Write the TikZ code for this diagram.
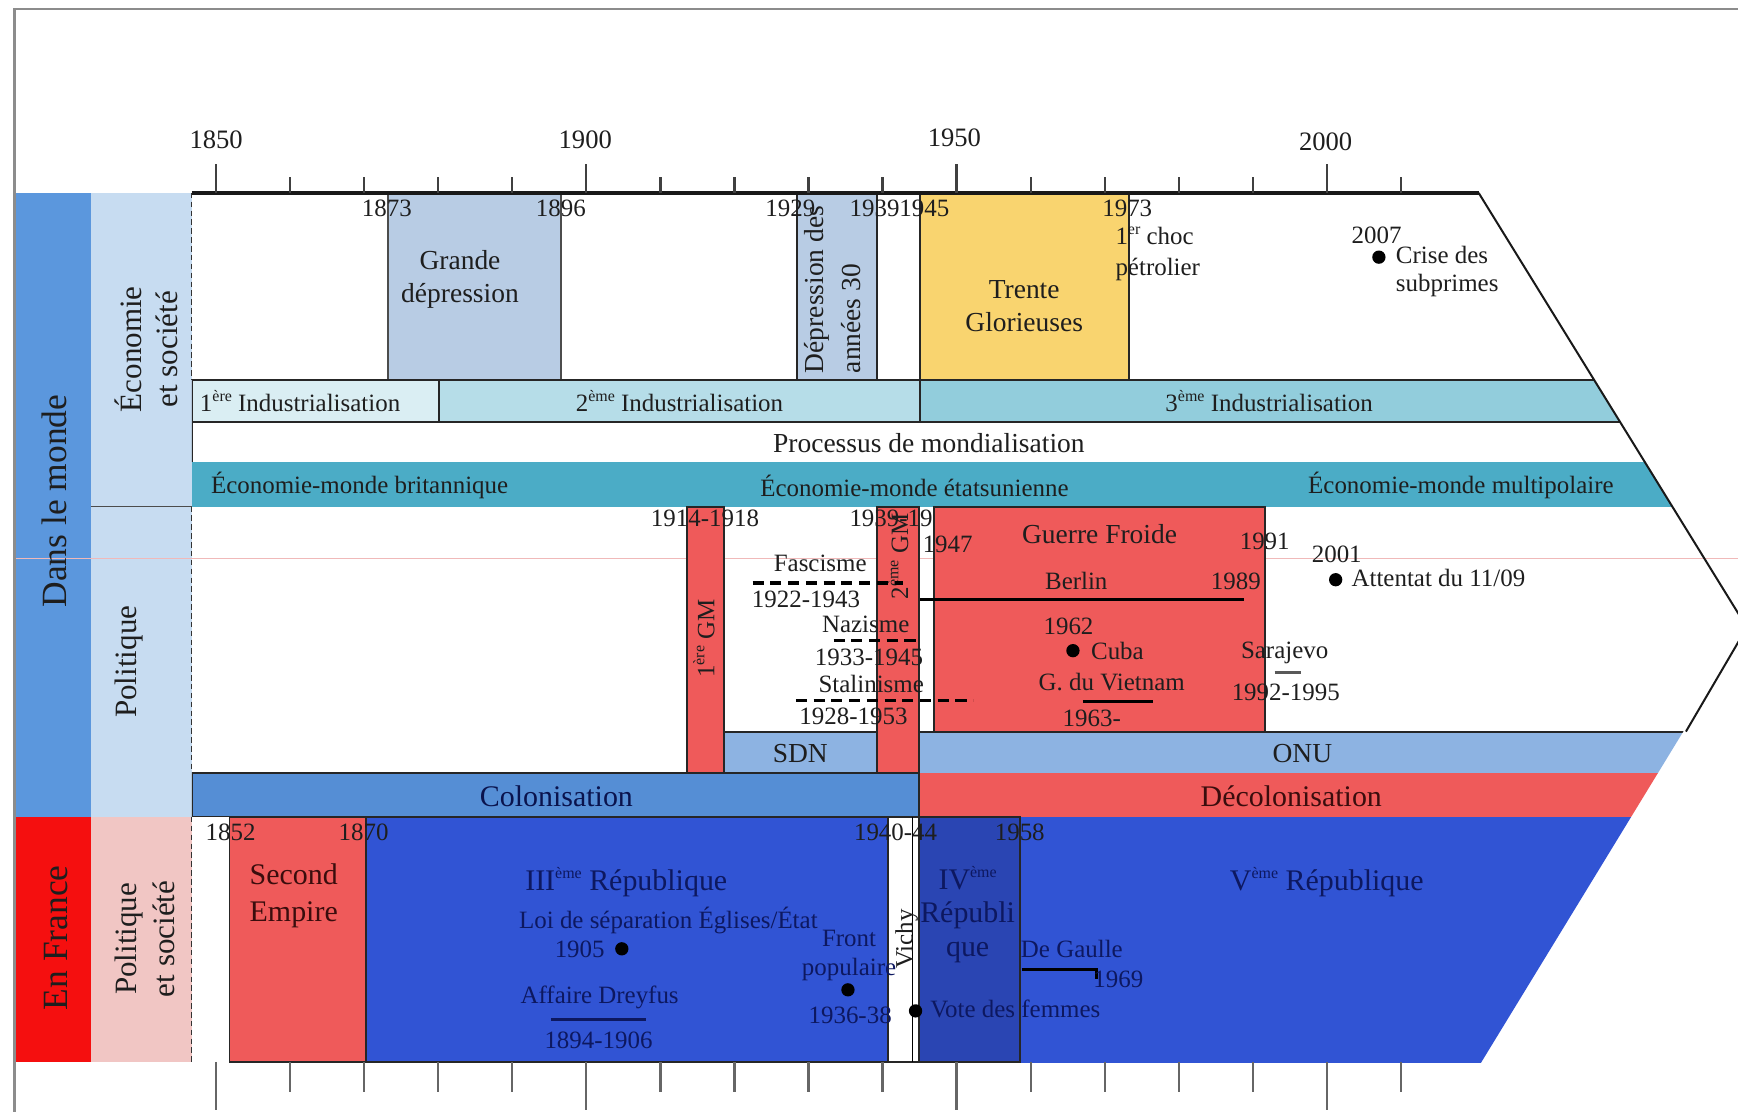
\documentclass[tikz,border=0pt]{standalone}
\usepackage{fontspec}
\setmainfont{Liberation Serif}
\newcommand\fsA{\fontsize{11.25pt}{13.5pt}\selectfont}
\newcommand\fsY{\fontsize{12pt}{14pt}\selectfont}
\newcommand\fsB{\fontsize{12.4pt}{15pt}\selectfont}
\newcommand\fsC{\fontsize{13.5pt}{16.5pt}\selectfont}
\newcommand\fsD{\fontsize{14pt}{16pt}\selectfont}
\newcommand\fsE{\fontsize{16pt}{18pt}\selectfont}
\newcommand\expo[1]{\raisebox{0.4em}{\fontsize{7.2pt}{8pt}\selectfont #1}}
\definecolor{colmonde}{HTML}{5B97DD}
\definecolor{colfrance}{HTML}{F50F0F}
\definecolor{coltwomonde}{HTML}{C7DCF1}
\definecolor{coltwofrance}{HTML}{F1C6C4}
\definecolor{depr}{HTML}{B8CCE4}
\definecolor{trente}{HTML}{F9D46F}
\definecolor{indA}{HTML}{DAEEF3}
\definecolor{indB}{HTML}{B6DDE8}
\definecolor{indC}{HTML}{92CDDC}
\definecolor{ecomonde}{HTML}{4BACC6}
\definecolor{sdnblue}{HTML}{8DB3E2}
\definecolor{colon}{HTML}{558ED5}
\definecolor{rouge}{HTML}{EF5A5A}
\definecolor{rep}{HTML}{3154D4}
\definecolor{repIV}{HTML}{2A45B3}
\definecolor{pinkline}{HTML}{F0B9B9}
\definecolor{framegray}{HTML}{8C8C8C}
\definecolor{txt}{HTML}{1E1E1E}
\definecolor{navy}{HTML}{0D1860}
\definecolor{maroon}{HTML}{3A0D0D}
\begin{document}
\begin{tikzpicture}[x=0.5pt,y=-0.5pt,
  tx/.style={inner sep=0pt, text=txt, font=\fsA},
  txb/.style={tx, font=\fsB},
  txc/.style={tx, font=\fsC},
  nv/.style={text=navy},
  bx/.style={draw=black!85, line width=0.9pt},
  evline/.style={line width=1.5pt, black},
  dashline/.style={line width=1.6pt, black, dash pattern=on 5pt off 3pt},
  evdot/.style={fill=black},
  tick/.style={line width=1pt, black!75}]
\useasboundingbox (0,0) rectangle (1568,1003);
\fill[white] (0,0) rectangle (1568,1003);
% left columns
\fill[colmonde] (13,174) rectangle (82,737);
\fill[colfrance] (13,737) rectangle (82,958);
\fill[coltwomonde] (82,174) rectangle (173,737);
\fill[coltwofrance] (82,737) rectangle (173,958);
\draw[line width=0.6pt, black!70] (82,457) -- (173,457);
% guide line
\draw[pinkline, line width=0.5pt] (13,504) -- (1568,504);
% frame
\draw[framegray, line width=1pt] (13,1003) -- (13,8) -- (1568,8);
% column labels
\node[rotate=90, tx, font=\fsE] (dlm) at (49,452) {Dans le monde};
\node[rotate=90, tx, font=\fsE] (enf) at (51,846) {En France};
\node[rotate=90, tx, font=\fsD, align=center] (ecs) at (132,315) {Économie\\et société};
\node[rotate=90, tx, font=\fsD] (pol) at (116,597) {Politique};
\node[rotate=90, tx, align=center, font=\fontsize{14pt}{17pt}\selectfont] (pes) at (131,847) {Politique\\et société};
% dashed start line
\draw[black!80, line width=0.5pt, dash pattern=on 2.5pt off 1.5pt] (173,174) -- (173,343) (173,457) -- (173,697) (173,737) -- (173,958);
% ---- bands clipped by the chevron
\begin{scope}
\clip (173,174) -- (1334,174) -- (1576,566) -- (1336,959) -- (173,959) -- cycle;
% economy boxes
\draw[fill=depr, draw=black!70, line width=0.8pt] (350,174) rectangle (506,343);
\draw[fill=depr, bx] (719,174) rectangle (791,343);
\draw[fill=trente, bx] (830,174) rectangle (1019,343);
% industrialisation
\fill[indA] (173,343) rectangle (396,381);
\fill[indB] (396,343) rectangle (830,381);
\fill[indC] (830,343) rectangle (1600,381);
\draw[line width=1pt, black!85] (173,343) -- (1600,343) (173,381) -- (1600,381)
  (173,343) -- (173,417) (396,343) -- (396,381) (830,343) -- (830,381);
% economie-monde
\fill[ecomonde] (173,417) rectangle (1600,457);
% SDN / ONU
\draw[fill=sdnblue, bx] (653,660) rectangle (791,697);
\fill[sdnblue] (829,660) rectangle (1600,697);
\draw[line width=0.9pt, black!85] (829,660) -- (1600,660);
% colonisation
\fill[rouge] (829,697) rectangle (1600,737);
\draw[fill=colon, bx] (173,697) rectangle (829,737);
% wars
\draw[fill=rouge, bx] (620,457) rectangle (653,697);
\draw[fill=rouge, bx] (791,457) rectangle (829,697);
\node[tx, anchor=west] (y3945) at (766,468) {1939-1945};
\draw[fill=rouge, bx] (843,457) rectangle (1141,660);
% France
\fill[white] (173,737) rectangle (207,958);
\fill[rep] (920,737) rectangle (1600,959);
\draw[fill=rouge, bx, line width=0.7pt] (207,737) rectangle (330,958);
\draw[fill=rep, bx] (330,737) rectangle (801,958);
\draw[fill=white, bx] (801,737) rectangle (829,958);
\draw[line width=0.5pt] (823,737) -- (823,958);
\draw[fill=repIV, bx] (829,737) rectangle (920,958);
\end{scope}
% chevron outline and axis
\draw[line width=0.9pt, black!90] (1334,174) -- (1576,566) -- (1521,660);
\draw[line width=1.6pt, black!90] (173,174) -- (1334,174);
\foreach \yr in {1860,1870,1880,1890,1910,1920,1930,1940,1960,1970,1980,1990,2010} {
  \pgfmathsetmacro\xx{195+(\yr-1850)*6.68}
  \draw[tick] (\xx,160) -- (\xx,174);
  \draw[tick, black!60] (\xx,958) -- (\xx,985);
}
\foreach \yr in {1850,1900,1950,2000} {
  \pgfmathsetmacro\xx{195+(\yr-1850)*6.68}
  \draw[tick] (\xx,148) -- (\xx,174);
  \draw[tick, black!60] (\xx,958) -- (\xx,1001);
}
\node[tx, font=\fsY] (l1850) at (195,126) {1850};
\node[tx, font=\fsY] (l1900) at (528,126) {1900};
\node[tx, font=\fsY] (l1950) at (861,124) {1950};
\node[tx, font=\fsY] (l2000) at (1196,128) {2000};
% ---- economy texts
\node[tx] (t1873) at (349,188) {1873};
\node[tx] (t1896) at (506,188) {1896};
\node[tx] (t1929) at (713,188) {1929};
\node[tx] (t1939) at (789,188) {1939};
\node[tx] (t1945) at (834,188) {1945};
\node[tx] (t1973) at (1017,188) {1973};
\node[txb, align=center] (grande) at (415,252) {Grande\\dépression};
\node[txb, rotate=90, anchor=west, align=left, font=\fontsize{12.4pt}{17pt}\selectfont] (depr30) at (751,337) {Dépression des\\années 30};
\node[txb, align=center] (trente) at (924,276) {Trente\\Glorieuses};
\node[tx, anchor=west, align=left, font=\fontsize{11.25pt}{14pt}\selectfont] (choc) at (1006,229) {1\expo{er} choc\\pétrolier};
\node[tx] (t2007) at (1242,212) {2007};
\fill[evdot] (1244,232) circle (3pt);
\node[tx, anchor=west, align=left, font=\fontsize{11.25pt}{13pt}\selectfont] (crise) at (1259,245) {Crise des\\subprimes};
\node[tx, anchor=west] (ind1) at (180,362) {1\expo{ère} Industrialisation};
\node[tx] (ind2) at (613,362) {2\expo{ème} Industrialisation};
\node[tx] (ind3) at (1145,362) {3\expo{ème} Industrialisation};
\node[txb] (proc) at (838,400) {Processus de mondialisation};
\node[tx, anchor=west] (emb) at (190,438) {Économie-monde britannique};
\node[tx] (eme) at (825,438) {Économie-monde étatsunienne};
\node[tx] (emm) at (1318,438) {Économie-monde multipolaire};
% ---- politique texts
\node[tx] (gm1y) at (636,468) {1914-1918};
\node[tx, rotate=90] (gm1) at (635,576) {1\expo{ère} GM};
\node[tx, rotate=90] (gm2) at (810,502) {2\expo{ème} GM};
\node[tx] (y1947) at (855,491) {1947};
\node[txb] (gf) at (992,482) {Guerre Froide};
\node[tx] (y1991) at (1141,488) {1991};
\node[tx] (y2001) at (1206,500) {2001};
\fill[evdot] (1205,523) circle (3pt);
\node[tx, anchor=west] (att) at (1219,521) {Attentat du 11/09};
\node[tx] (fasc) at (740,508) {Fascisme};
\coordinate (fa) at (679,526); \coordinate (fb) at (815,526);
\draw[dashline] (fa) -- (fb);
\node[tx, anchor=west] (yfasc) at (678,541) {1922-1943};
\node[tx] (berlin) at (971,524) {Berlin};
\node[tx] (y1989) at (1115,524) {1989};
\coordinate (ba) at (830,541); \coordinate (bb) at (1122,541);
\draw[evline] (ba) -- (bb);
\node[tx] (y1962) at (964,565) {1962};
\fill[evdot] (968,587) circle (3pt);
\node[tx, anchor=west] (cuba) at (984,587) {Cuba};
\node[tx] (naz) at (781,563) {Nazisme};
\coordinate (na) at (752,578); \coordinate (nb) at (830,578);
\draw[dashline] (na) -- (nb);
\node[tx] (ynaz) at (784,593) {1933-1945};
\node[tx] (sar) at (1159,589) {Sarajevo};
\coordinate (sa) at (1150,607); \coordinate (sb) at (1174,607);
\draw[line width=1.5pt, black!65] (sa) -- (sb);
\node[tx] (ysar) at (1160,625) {1992-1995};
\node[tx] (stal) at (786,617) {Stalinisme};
\coordinate (sta) at (718,632); \coordinate (stb) at (878,632);
\draw[dashline] (sta) -- (stb);
\node[tx] (ystal) at (770,646) {1928-1953};
\node[tx] (viet) at (1003,615) {G. du Vietnam};
\coordinate (va) at (977,633); \coordinate (vb) at (1040,633);
\draw[evline] (va) -- (vb);
\node[tx] (yviet) at (985,648) {1963-};
\node[txb] (sdn) at (722,680) {SDN};
\node[txb] (onu) at (1175,680) {ONU};
\node[txc, text=navy!80!black] (colo) at (502,718) {Colonisation};
\node[txc, text=maroon] (deco) at (1165,718) {Décolonisation};
% ---- France texts
\node[tx] (y1852) at (208,751) {1852};
\node[tx] (y1870) at (328,751) {1870};
\node[tx] (y4044) at (808,751) {1940-44};
\node[tx] (y1958) at (920,751) {1958};
\node[txc, align=center, text=maroon] (se) at (265,808) {Second\\Empire};
\node[txc, nv] (r3) at (565,796) {III\expo{ème} République};
\node[tx, nv] (loi) at (603,830) {Loi de séparation Églises/État};
\node[tx, nv] (y1905) at (523,856) {1905};
\fill[evdot] (561,856) circle (3pt);
\node[tx, nv] (dreyfus) at (541,900) {Affaire Dreyfus};
\coordinate (da) at (497,920); \coordinate (db) at (583,920);
\draw[evline, navy] (da) -- (db);
\node[tx, nv] (ydrey) at (540,939) {1894-1906};
\node[tx, nv, align=center] (front) at (766,862) {Front\\populaire};
\fill[evdot] (765,893) circle (3pt);
\node[tx, nv] (yfront) at (767,916) {1936-38};
\node[tx, rotate=90] (vichy) at (818,847) {Vichy};
\node[txc, nv, align=center, font=\fontsize{13.5pt}{15pt}\selectfont] (r4) at (873,825) {IV\expo{ème}\\Républi\\que};
\node[tx, nv] (dg) at (967,856) {De Gaulle};
\coordinate (ga) at (922,875); \coordinate (gb) at (989,875); \coordinate (gc) at (989,883);
\draw[evline, line width=1.3pt] (ga) -- (gb) -- (gc);
\node[tx, nv] (y1969) at (1009,884) {1969};
\fill[evdot] (826,912) circle (3pt);
\node[tx, nv, anchor=west] (vote) at (839,910) {Vote des femmes};
\node[txc, nv] (r5) at (1197,796) {V\expo{ème} République};
\end{tikzpicture}
\end{document}
